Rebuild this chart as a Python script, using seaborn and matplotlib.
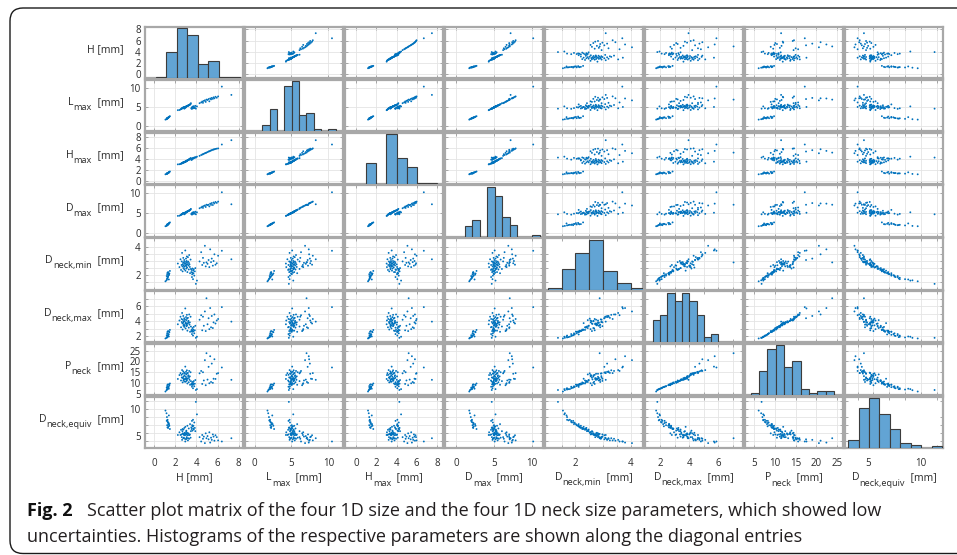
import numpy as np
import pandas as pd
import matplotlib
matplotlib.use("Agg")
import matplotlib.pyplot as plt
from matplotlib.patches import FancyBboxPatch
from matplotlib.transforms import IdentityTransform
from matplotlib.ticker import FixedLocator
import seaborn as sns

# values, one entry per aneurysm (groups: small, mid-high, mid, large, outliers)
H = [1.08, 1.18, 1.22, 1.25, 1.28, 1.30, 1.32, 1.20, 1.35, 1.38, 1.40, 1.24, 1.45, 1.27, 1.33, 1.50, 1.36, 1.42,
     3.52, 3.55, 3.58, 3.60, 3.62, 3.65, 3.68, 3.70, 3.72, 3.75, 3.80, 3.85, 3.90, 3.95, 4.05,
     2.25, 2.40, 2.50, 2.55, 2.60, 2.62, 2.65, 2.68, 2.70, 2.72, 2.75, 2.76, 2.78, 2.80, 2.82,
     2.85, 2.86, 2.88, 2.90, 2.92, 2.95, 2.96, 2.98, 3.00, 3.02, 3.04, 3.05, 3.07, 3.08, 3.10,
     3.11, 3.12, 3.15, 3.18, 3.20, 3.22, 3.25, 3.28, 3.30, 3.32, 3.35, 3.38, 3.40, 3.45, 3.48,
     4.30, 4.45, 4.55, 4.62, 4.70, 4.80, 4.88, 4.95, 5.05, 5.15, 5.22, 5.30, 5.38, 5.45, 5.55,
     5.62, 5.70, 5.80, 5.92, 6.05,
     6.40, 7.30]
L_max = [1.75, 1.85, 1.95, 2.00, 2.10, 2.15, 2.20, 2.05, 2.30, 2.35, 2.40, 2.12, 2.55, 2.18, 2.25, 2.65, 2.28, 2.45,
         4.70, 4.85, 4.60, 5.05, 4.90, 5.20, 4.75, 5.10, 4.95, 5.30, 4.80, 5.00, 5.40, 4.65, 5.25,
         4.25, 4.30, 4.45, 4.55, 4.60, 4.70, 4.75, 4.80, 4.85, 4.88, 4.90, 4.92, 4.95, 4.97, 4.98,
         5.02, 4.65, 5.05, 5.08, 4.82, 5.10, 5.12, 4.93, 5.15, 5.18, 5.20, 5.22, 5.25, 5.28, 5.30,
         5.32, 5.35, 5.38, 5.40, 5.45, 5.48, 5.50, 5.55, 5.58, 5.62, 5.68, 5.72, 5.78, 5.85, 6.10,
         6.10, 6.30, 6.55, 6.20, 6.70, 6.85, 6.45, 7.05, 6.95, 7.20, 6.60, 7.35, 7.10, 7.50, 7.25,
         7.65, 7.40, 7.80, 7.55, 7.90,
         10.50, 8.30]
H_max = [1.18, 1.25, 1.30, 1.36, 1.35, 1.42, 1.40, 1.32, 1.48, 1.45, 1.55, 1.30, 1.62, 1.38, 1.44, 1.70, 1.50, 1.58,
         3.85, 3.95, 3.90, 4.05, 4.10, 4.12, 4.08, 4.20, 4.15, 4.25, 4.22, 4.30, 4.35, 4.28, 4.45,
         3.02, 3.05, 3.10, 3.15, 3.18, 3.25, 3.22, 3.30, 3.28, 3.35, 3.32, 3.38, 3.40, 3.36, 3.42,
         3.45, 3.40, 3.48, 3.50, 3.46, 3.52, 3.55, 3.50, 3.58, 3.60, 3.62, 3.60, 3.65, 3.68, 3.66,
         3.70, 3.72, 3.75, 3.78, 3.80, 3.82, 3.85, 3.90, 3.88, 3.95, 4.02, 4.05, 4.08, 4.12, 4.18,
         4.60, 4.75, 4.85, 4.90, 4.98, 5.08, 5.15, 5.20, 5.30, 5.40, 5.45, 5.52, 5.60, 5.65, 5.72,
         5.78, 5.82, 5.88, 5.93, 5.98,
         6.70, 7.50]
D_max = [1.72, 1.80, 1.92, 2.02, 2.08, 2.05, 2.18, 1.98, 2.30, 2.28, 2.42, 2.15, 2.55, 2.20, 2.25, 2.68, 2.32, 2.50,
         4.75, 4.85, 4.62, 5.00, 4.92, 5.15, 4.80, 5.05, 4.95, 5.25, 4.85, 5.00, 5.35, 4.70, 5.20,
         4.30, 4.35, 4.48, 4.60, 4.62, 4.72, 4.80, 4.82, 4.86, 4.90, 4.92, 4.95, 4.98, 5.00, 5.02,
         5.04, 4.70, 5.06, 5.08, 4.85, 5.09, 5.12, 4.96, 5.15, 5.20, 5.22, 5.25, 5.26, 5.30, 5.32,
         5.35, 5.38, 5.40, 5.42, 5.48, 5.50, 5.52, 5.58, 5.60, 5.65, 5.70, 5.75, 5.80, 5.88, 6.05,
         6.21, 6.40, 6.63, 6.30, 6.76, 6.90, 6.53, 7.09, 7.00, 7.08, 6.67, 7.36, 7.05, 7.50, 7.02,
         7.64, 7.41, 7.78, 7.55, 7.87,
         10.20, 7.20]
D_neck_min = [1.55, 1.62, 1.70, 1.75, 1.80, 1.85, 1.88, 1.92, 1.95, 1.98, 1.68, 2.05, 2.10, 2.15, 2.20, 2.28, 2.12, 2.02,
              2.20, 2.35, 1.85, 2.05, 2.45, 2.15, 1.70, 2.30, 2.10, 2.40, 1.95, 2.25, 2.48, 1.37, 1.60,
              2.80, 2.55, 3.10, 2.35, 2.70, 2.95, 3.55, 2.60, 2.25, 2.75, 2.85, 3.20, 2.48, 2.65, 2.90,
              3.05, 2.40, 2.58, 2.78, 2.92, 3.72, 2.30, 2.68, 2.82, 3.15, 2.62, 2.45, 2.98, 2.72, 3.30,
              2.88, 2.52, 2.20, 2.76, 3.25, 2.94, 2.66, 2.38, 2.84, 3.40, 2.74, 2.56, 2.12, 3.08, 2.42,
              2.95, 3.60, 2.70, 3.20, 2.85, 4.05, 2.60, 2.88, 2.78, 3.05, 2.55, 3.80, 2.90, 3.15, 2.65,
              2.98, 3.45, 2.72, 2.82, 3.35,
              3.70, 3.10]
D_neck_max = [1.72, 1.80, 1.85, 1.90, 1.95, 2.05, 2.10, 2.15, 2.20, 2.30, 1.98, 2.40, 2.55, 2.60, 2.70, 2.85, 2.25, 2.62,
              2.70, 2.85, 2.30, 2.60, 3.10, 2.75, 2.10, 2.90, 2.65, 3.25, 2.40, 2.80, 3.40, 1.80, 1.95,
              3.60, 4.10, 4.60, 3.20, 4.30, 3.90, 5.10, 3.70, 2.90, 4.20, 3.80, 4.70, 3.40, 4.00, 3.55,
              4.40, 3.25, 4.02, 3.45, 4.25, 5.70, 3.75, 3.05, 3.85, 4.55, 3.65, 4.15, 3.35, 3.60, 4.85,
              3.45, 4.35, 2.75, 3.70, 4.45, 3.90, 4.05, 3.15, 3.80, 4.90, 3.55, 3.85, 2.60, 4.60, 3.30,
              4.20, 4.80, 2.80, 4.60, 3.40, 5.30, 2.70, 7.05, 3.60, 4.40, 2.95, 5.75, 3.20, 4.70, 3.10,
              3.85, 4.90, 3.70, 4.10, 4.30,
              5.87, 3.95]
P_neck = [6.1, 6.7, 7.0, 7.2, 7.2, 7.6, 7.8, 7.9, 8.1, 8.3, 7.4, 8.6, 9.0, 9.2, 9.4, 9.8, 8.25, 9.3,
          9.4, 9.8, 8.3, 9.1, 10.5, 9.6, 7.6, 10.0, 9.3, 10.9, 8.5, 9.7, 11.4, 6.8, 7.2,
          11.9, 13.7, 14.6, 11.2, 13.8, 12.6, 16.0, 12.5, 10.3, 14.3, 12.25, 15.4, 11.3, 13.0, 11.6,
          14.8, 10.7, 13.5, 11.8, 14.4, 17.6, 12.0, 10.6, 12.9, 15.2, 11.7, 14.0, 11.0, 12.3, 15.9,
          11.4, 14.5, 9.8, 12.1, 14.7, 13.2, 13.6, 10.4, 12.4, 15.6, 11.5, 13.1, 9.2, 15.0, 10.9,
          14.5, 15.6, 9.6, 15.0, 11.2, 20.6, 9.0, 23.8, 11.6, 17.5, 9.9, 22.4, 10.5, 19.0, 10.1,
          12.0, 21.0, 11.9, 14.3, 14.6,
          17.2, 11.5]
D_neck_equiv = [9.7, 9.2, 8.5, 7.9, 8.0, 7.6, 7.5, 7.8, 7.2, 7.4, 8.8, 7.0, 6.9, 6.6, 6.5, 6.3, 6.8, 7.2,
                6.6, 6.3, 7.8, 7.0, 6.0, 6.8, 8.0, 6.4, 6.9, 6.2, 7.5, 6.5, 5.9, 11.3, 9.0,
                5.2, 5.7, 5.2, 6.15, 5.3, 4.8, 4.3, 5.9, 6.3, 5.5, 5.4, 4.6, 6.2, 5.3, 4.7,
                5.15, 6.5, 5.4, 5.6, 4.5, 4.0, 6.7, 5.2, 5.5, 4.4, 5.8, 6.0, 5.3, 4.8, 4.6,
                5.4, 5.6, 6.9, 5.15, 4.2, 4.6, 5.5, 6.4, 5.2, 4.5, 5.2, 5.3, 7.2, 4.7, 5.9,
                4.8, 4.0, 5.2, 4.5, 4.9, 3.7, 5.5, 4.6, 5.0, 4.4, 5.7, 3.8, 4.7, 4.3, 5.3,
                4.9, 4.15, 5.15, 4.8, 4.2,
                4.0, 4.6]

params = ["H", "L_max", "H_max", "D_max", "D_neck_min", "D_neck_max", "P_neck", "D_neck_equiv"]
# label = symbol, subscript; every label ends with "[mm]"
label_main = ["H", "L", "H", "D", "D", "D", "P", "D"]
label_sub = ["", "max", "max", "max", "neck,min", "neck,max", "neck", "neck,equiv"]

df = pd.DataFrame({"H": H, "L_max": L_max, "H_max": H_max, "D_max": D_max,
                   "D_neck_min": D_neck_min, "D_neck_max": D_neck_max,
                   "P_neck": P_neck, "D_neck_equiv": D_neck_equiv})

# axis setup per parameter
xlims = {"H": (-0.85, 8.4), "L_max": (-1.3, 12.0), "H_max": (-1.1, 8.6), "D_max": (-1.5, 11.5),
         "D_neck_min": (0.9, 4.45), "D_neck_max": (0.95, 7.7), "P_neck": (2.8, 26.4),
         "D_neck_equiv": (2.8, 12.1)}
ylims = {"H": (-0.7, 8.4), "L_max": (-1.3, 12.3), "H_max": (-0.6, 8.9), "D_max": (-0.9, 11.9),
         "D_neck_min": (0.97, 4.58), "D_neck_max": (1.2, 8.0), "P_neck": (4.4, 28.1),
         "D_neck_equiv": (2.8, 12.25)}
ticks = {"H": [0, 2, 4, 6, 8], "L_max": [0, 5, 10], "H_max": [0, 2, 4, 6, 8], "D_max": [0, 5, 10],
         "D_neck_min": [2, 4], "D_neck_max": [2, 4, 6], "P_neck": [5, 10, 15, 20, 25],
         "D_neck_equiv": [5, 10]}
grid_at = {"H": [0, 2, 4, 6, 8], "L_max": [0, 5, 10], "H_max": [0, 2, 4, 6, 8], "D_max": [0, 5, 10],
           "D_neck_min": [1.5, 2, 2.5, 3, 3.5, 4], "D_neck_max": [2, 3, 4, 5, 6, 7],
           "P_neck": [5, 10, 15, 20, 25], "D_neck_equiv": [4, 5.5, 7, 8.5, 10, 11.5]}
bin_edges = {"H": np.linspace(0.16, 8.08, 9), "L_max": np.linspace(1.05, 11.0, 11),
             "H_max": np.linspace(1.0, 8.0, 8), "D_max": np.linspace(1.1, 11.1, 11),
             "D_neck_min": np.linspace(1.0, 4.5, 8), "D_neck_max": np.linspace(1.5, 7.0, 12),
             "P_neck": np.linspace(4.2, 24.2, 11), "D_neck_equiv": np.linspace(3.1, 12.0, 10)}

sns.set_theme(style="white")
plt.rcParams["font.family"] = ["Open Sans", "DejaVu Sans"]

dot_color = "#0072BD"
bar_color = "#62A4D4"
frame_color = "#a8a8a8"
text_color = "#2b2b2b"
fs_tick = 7.0
fs_lab = 7.6

fig, axes = plt.subplots(8, 8, figsize=(9.57, 5.55), dpi=100)
fig.subplots_adjust(left=145 / 957, right=943 / 957, top=1 - 27 / 555, bottom=1 - 448 / 555,
                    wspace=0.02, hspace=0.03)

n = len(params)
for i, yv in enumerate(params):
    for j, xv in enumerate(params):
        ax = axes[i, j]
        if i == j:
            hax = ax.twinx()
            sns.histplot(x=df[xv], bins=bin_edges[xv], ax=hax, color=bar_color,
                         edgecolor="#3c3c3c", linewidth=0.8, alpha=1)
            counts, _ = np.histogram(df[xv], bins=bin_edges[xv])
            hax.set_ylim(0, counts.max() * 1.03)
            hax.set_yticks([])
            hax.set_ylabel("")
            hax.set_xlabel("")
            for s in hax.spines.values():
                s.set_visible(False)
            ax.grid(False)
        else:
            sns.scatterplot(x=df[xv], y=df[yv], ax=ax, s=1.8, color=dot_color,
                            linewidth=0, edgecolor="none")
            ax.xaxis.remove_overlapping_locs = False
            ax.yaxis.remove_overlapping_locs = False
            ax.grid(True, which="minor", color="#e4e4e4", linewidth=0.6)
            ax.grid(False, which="major")
            ax.set_axisbelow(True)
        ax.set_xlim(xlims[xv])
        ax.set_ylim(ylims[yv])
        ax.xaxis.set_major_locator(FixedLocator(ticks[xv]))
        ax.yaxis.set_major_locator(FixedLocator(ticks[yv]))
        ax.xaxis.set_minor_locator(FixedLocator(grid_at[xv]))
        ax.yaxis.set_minor_locator(FixedLocator(grid_at[yv]))
        ax.tick_params(which="major", length=0, labelsize=fs_tick, labelcolor=text_color)
        ax.tick_params(axis="x", which="major", pad=7)
        ax.tick_params(axis="y", which="major", pad=3)
        ax.tick_params(which="minor", direction="in", length=2, width=0.6, color="#9a9a9a",
                       top=True, right=True, bottom=True, left=True)
        ax.tick_params(labelbottom=(i == n - 1), labelleft=(j == 0))
        for s in ax.spines.values():
            s.set_color(frame_color)
            s.set_linewidth(1.6)
        ax.set_xlabel("")
        ax.set_ylabel("")

# axis labels with MATLAB-like large, low subscripts, built from pieces
renderer = fig.canvas.get_renderer()
px = IdentityTransform()
sub_scale = 0.86
sub_drop = 5.0


def piece_width(s, size):
    t = fig.text(0, 0, s, fontsize=size, transform=px)
    w = t.get_window_extent(renderer).width
    t.remove()
    return w


def label_pieces(main, sub):
    if sub:
        return [(main, fs_lab, 0.0), (sub, fs_lab * sub_scale, -sub_drop), ("  [mm]", fs_lab, 0.0)]
    return [(main + " [mm]", fs_lab, 0.0)]


def draw_label(main, sub, x_left, y_base):
    x = x_left
    for s, size, dy in label_pieces(main, sub):
        fig.text(x, y_base + dy, s, fontsize=size, color=text_color, transform=px,
                 ha="left", va="baseline")
        x += piece_width(s, size)


def label_width(main, sub):
    return sum(piece_width(s, size) for s, size, _ in label_pieces(main, sub))


fig_h = 555
for i in range(n):
    bb = axes[i, 0].get_window_extent(renderer)
    yc = (bb.y0 + bb.y1) / 2
    w = label_width(label_main[i], label_sub[i])
    draw_label(label_main[i], label_sub[i], 123.5 - w, yc + 0.5)
for j in range(n):
    bb = axes[n - 1, j].get_window_extent(renderer)
    xc = (bb.x0 + bb.x1) / 2
    w = label_width(label_main[j], label_sub[j])
    draw_label(label_main[j], label_sub[j], xc - w / 2, fig_h - 480.5)

# caption
cap_color = "#231f20"
fig.text(27 / 957, 1 - 516 / 555, "Fig. 2", fontsize=13, fontweight="bold",
         color="#111111", va="baseline")
fig.text(87 / 957, 1 - 516 / 555,
         "Scatter plot matrix of the four 1D size and the four 1D neck size parameters, which showed low",
         fontsize=13, color=cap_color, va="baseline")
fig.text(27 / 957, 1 - 542 / 555,
         "uncertainties. Histograms of the respective parameters are shown along the diagonal entries",
         fontsize=13, color=cap_color, va="baseline")

# rounded frame around the figure
frame = FancyBboxPatch((10, 1.5), 1100, 545.5, boxstyle="round,pad=0,rounding_size=13",
                       transform=px, fill=False, edgecolor="#1a1a1a",
                       linewidth=1.0, clip_on=False)
fig.add_artist(frame)

fig.savefig("out.png", dpi=100)
